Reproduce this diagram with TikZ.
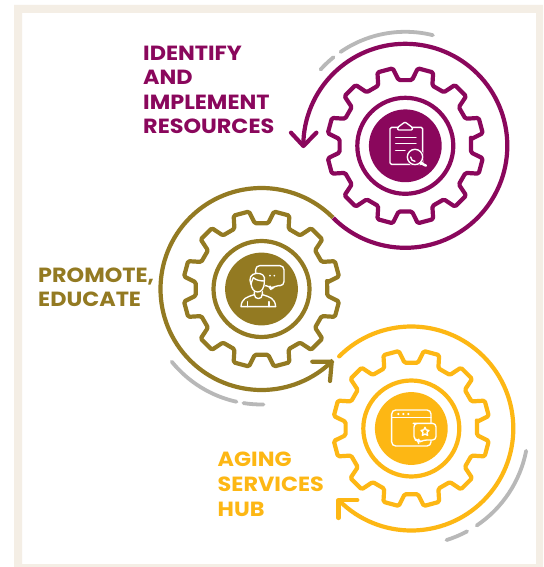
\documentclass[tikz,border=0pt]{standalone}
\usepackage{fontspec}
\setmainfont{Poppins}[FakeStretch=1.09]
\definecolor{cMaroon}{HTML}{8A075C}
\definecolor{cGold}{HTML}{937A22}
\definecolor{cYellow}{HTML}{FDB714}
\definecolor{cGray}{HTML}{B8B8B8}
\definecolor{cCream}{HTML}{F4EEE5}
\tikzset{
  sweep/.style={line width=4.2pt},
  headline/.style={line width=4.2pt,line cap=round,line join=round},
  grayarc/.style={cGray,line width=3.8pt,line cap=round},
  cogline/.style={line width=4.2pt,line join=round,rounded corners=1.5pt},
  ringline/.style={line width=4.2pt},
  iconline/.style={white,line width=1.35pt,line join=round,line cap=round},
  labeltext/.style={inner sep=0pt,align=left,anchor=north west,font=\bfseries}
}
\newcommand{\cogAt}[3]{%
  \begin{scope}[shift={(#1,#2)}]
    \draw[cogline,#3] (6:66)
      \foreach \t in {15,45,...,345} {
        -- ({\t-9.2}:66) -- ({\t-5.8}:78.5) -- ({\t+5.8}:78.5) -- ({\t+9.2}:66)
      } -- cycle;
    \draw[ringline,#3] (0,0) circle[radius=48];
    \fill[#3] (0,0) circle[radius=36.4];
  \end{scope}}
\begin{document}
\begin{tikzpicture}[x=1pt,y=1pt]
\useasboundingbox (0,0) rectangle (543,-567);
\fill[white] (0,0) rectangle (543,-567);
% frame
\fill[cCream,even odd rule] (14,-5) rectangle (543,-567) (22,-13) rectangle (536,-564);

% cogs
\cogAt{405.3}{-145.8}{cMaroon}
\cogAt{261.5}{-289}{cGold}
\cogAt{411.3}{-428.5}{cYellow}

% sweeping arcs
\coordinate (mc) at (405.3,-145.8);
\coordinate (gc) at (261.5,-289);
\coordinate (yc) at (411.3,-428.5);
\draw[sweep,cMaroon] (mc) ++(180:102) arc[start angle=180,end angle=-135,radius=102];
\draw[sweep,cGold] (gc) ++(45:101) arc[start angle=45,end angle=315,radius=101];
\draw[sweep,cYellow,line cap=round] (yc) ++(135:102) arc[start angle=135,end angle=-135,radius=102];

% arrow heads
\draw[headline,cMaroon] (291,-132.7) -- (303.4,-146) -- (316.4,-132.7);
\draw[headline,cGold] (312.3,-361.7) -- (331.7,-361.7) -- (330,-381);
\draw[headline,cYellow] (357.3,-500) -- (338.5,-500) -- (338.5,-518);

% gray arcs
\draw[grayarc] (mc) ++(76:114) arc[start angle=76,end angle=124.6,radius=114];
\draw[grayarc] (mc) ++(129:114) arc[start angle=129,end angle=138,radius=114];
\draw[grayarc] (gc) ++(219:115.5) arc[start angle=219,end angle=257.5,radius=115.5];
\draw[grayarc] (gc) ++(261:115.5) arc[start angle=261,end angle=271,radius=115.5];
\draw[grayarc] (yc) ++(-11:117) arc[start angle=-11,end angle=-56,radius=117];
\draw[grayarc] (yc) ++(-61.5:117) arc[start angle=-61.5,end angle=-72.5,radius=117];

% clipboard icon
\begin{scope}[shift={(350,-95)},x=0.3333pt,y=-0.3333pt]
  \draw[iconline,rounded corners=1.5pt] (145,97) -- (120,97) -- (120,208) -- (218,208) -- (218,97) -- (185,97);
  \draw[iconline,rounded corners=1pt] (143,105) -- (143,97) -- (165,81) -- (187,97) -- (187,105) -- cycle;
  \draw[iconline] (137,127) -- (198,127) (137,146) -- (198,146) (137,167) -- (165,167);
  \fill[cMaroon] (195,186) circle[radius=27];
  \draw[iconline] (195,186) circle[radius=23];
  \draw[iconline] (182,186) arc[start angle=180,end angle=90,radius=13];
  \draw[iconline,line width=2.4pt] (212,204) -- (228,212);
\end{scope}

% person and speech icon
\begin{scope}[shift={(215,-245)},x=0.3333pt,y=-0.3333pt]
  \draw[iconline,rounded corners=4pt] (122,84) -- (122,62) -- (207,62) -- (207,122) -- (178,122) -- (168,135) -- (165,122) -- (148,122);
  \fill[white] (165,92) circle[radius=2.8] (178,92) circle[radius=2.8];
  \fill[cGold] (128,112) circle[radius=24];
  \draw[iconline] (108,112) .. controls (108,132) and (118,141) .. (128,141) .. controls (139,141) and (148,132) .. (148,108);
  \draw[iconline] (108,118) .. controls (100,100) and (108,86) .. (125,85) .. controls (140,84) and (152,92) .. (148,108) .. controls (135,108) and (122,105) .. (115,98) .. controls (112,104) and (110,110) .. (108,118);
  \draw[iconline] (118,140) -- (118,148) .. controls (118,165) and (142,165) .. (142,148) -- (142,140);
  \draw[iconline] (118,149) .. controls (95,156) and (80,160) .. (78,185) -- (182,185) .. controls (180,160) and (165,156) .. (142,149);
  \draw[iconline] (98,170) -- (98,185) (162,170) -- (162,185);
\end{scope}

% browser and star icon
\begin{scope}[shift={(370,-390)},x=0.3333pt,y=-0.3333pt]
  \draw[iconline,rounded corners=4pt] (65,60) rectangle (183,168);
  \draw[iconline] (65,83) -- (183,83);
  \fill[white] (85,72) circle[radius=3.6] (100,72) circle[radius=3.6] (115,72) circle[radius=3.6];
  \draw[iconline,fill=cYellow,rounded corners=3.5pt] (140,100) -- (198,100) -- (198,150) -- (160,150) -- (146,158) -- (146,150) -- (132,150) -- (132,100) -- cycle;
  \draw[iconline] (165,112) -- (169,120) -- (177,121) -- (171,127) -- (173,136) -- (165,132) -- (157,136) -- (159,127) -- (153,121) -- (161,120) -- cycle;
\end{scope}

% labels
\node[labeltext,text=cMaroon,font=\bfseries\fontsize{20.5}{24.5}\selectfont] (lblmaroon) at (143,-45.5) {IDENTIFY\\AND\\IMPLEMENT\\RESOURCES};
\node[labeltext,text=cGold,font=\bfseries\fontsize{20.5}{23.5}\selectfont] (lblgold) at (38,-267.8) {PROMOTE,\\EDUCATE};
\node[labeltext,text=cYellow,font=\bfseries\fontsize{20.5}{25}\selectfont] (lblyellow) at (217.5,-452) {AGING\\SERVICES\\HUB};
\end{tikzpicture}
\end{document}
